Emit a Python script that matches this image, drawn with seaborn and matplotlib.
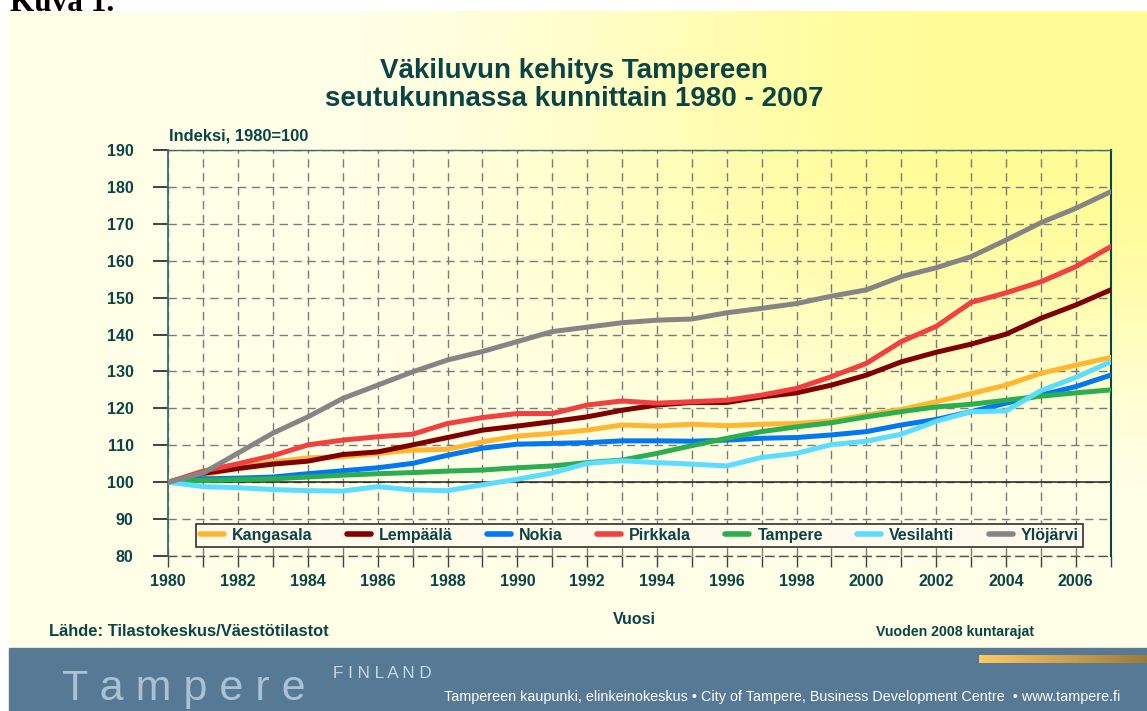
import numpy as np
import pandas as pd
import matplotlib.pyplot as plt
import seaborn as sns
from matplotlib.patches import Rectangle
from matplotlib.ticker import MultipleLocator

# ---------------------------------------------------------
# Data (index, 1980 = 100)
# ---------------------------------------------------------
years = list(range(1980, 2008))

kangasala = [100, 101.9, 103.8, 105.5, 106.6, 106.9, 107.8, 108.7, 108.9, 110.9,
             112.5, 113.2, 114.1, 115.5, 115.2, 115.7, 115.3, 115.7, 115.9, 116.6,
             118.2, 119.7, 121.8, 124.0, 126.3, 129.5, 131.7, 133.8]
lempaala = [100, 102.4, 103.7, 104.9, 105.7, 107.5, 108.2, 110.1, 112.1, 114.1,
            115.2, 116.4, 117.7, 119.5, 120.9, 121.6, 121.6, 123.1, 124.2, 126.3,
            129.0, 132.6, 135.2, 137.4, 140.1, 144.4, 148.0, 152.1]
nokia = [100, 100.9, 101.1, 101.4, 102.3, 103.1, 103.9, 105.1, 107.3, 109.2,
         110.3, 110.5, 110.7, 111.2, 111.2, 111.1, 111.4, 111.9, 112.1, 112.8,
         113.7, 115.5, 117.0, 119.1, 121.4, 123.6, 125.9, 129.0]
pirkkala = [100, 103.0, 105.0, 107.2, 110.1, 111.4, 112.3, 113.0, 115.9, 117.5,
            118.6, 118.6, 120.9, 122.0, 121.4, 121.8, 122.2, 123.6, 125.4, 128.6,
            132.2, 138.1, 142.2, 148.7, 151.3, 154.3, 158.4, 163.8]
tampere = [100, 100.5, 100.7, 100.9, 101.4, 101.9, 102.3, 102.6, 103.0, 103.3,
           103.9, 104.4, 105.3, 106.0, 107.8, 109.9, 111.9, 113.7, 115.0, 116.1,
           117.7, 119.1, 120.4, 121.1, 122.2, 123.3, 124.2, 125.0]
vesilahti = [100, 98.8, 98.5, 98.0, 97.7, 97.6, 98.8, 97.9, 97.7, 99.3,
             100.8, 102.5, 105.1, 105.8, 105.3, 104.9, 104.4, 106.7, 107.8, 110.2,
             111.1, 113.0, 116.5, 119.1, 119.3, 124.8, 128.4, 132.6]
ylojarvi = [100, 102.5, 107.9, 113.3, 117.7, 122.7, 126.3, 129.9, 133.1, 135.4,
            138.1, 140.8, 142.0, 143.2, 143.9, 144.2, 145.9, 147.1, 148.4, 150.4,
            152.1, 155.7, 158.1, 161.1, 165.6, 170.3, 174.2, 178.7]

municipalities = ["Kangasala", "Lempäälä", "Nokia", "Pirkkala",
                  "Tampere", "Vesilahti", "Ylöjärvi"]
series = [kangasala, lempaala, nokia, pirkkala, tampere, vesilahti, ylojarvi]
colors = ["#FFB732", "#7F0000", "#0077F5", "#F24040",
          "#2BAE4F", "#5CDDFF", "#858585"]

x_ticks = list(range(1980, 2007, 2))
y_ticks = list(range(80, 191, 10))

df = pd.DataFrame({
    "Vuosi": years * len(municipalities),
    "Indeksi": [v for s in series for v in s],
    "Kunta": [m for m in municipalities for _ in years],
})

# ---------------------------------------------------------
# Style
# ---------------------------------------------------------
sns.set_style("ticks")
plt.rcParams["font.family"] = ["Liberation Sans", "DejaVu Sans"]
plt.rcParams["font.weight"] = "bold"

teal = "#0B4444"

fig = plt.figure(figsize=(11.47, 7.11), dpi=100)

# background layer in pixel coordinates
bg = fig.add_axes([0, 0, 1, 1], zorder=-10)


def smooth(v):
    v = np.clip(v, 0, 1)
    return v * v * (3 - 2 * v)


gx, gy = np.meshgrid(np.linspace(0, 1, 400), np.linspace(0, 1, 300))
t = smooth((gx - 0.25) / 0.6) * smooth((0.8 - gy) / 0.55)
pale = np.array([255, 255, 232]) / 255
yellow = np.array([255, 252, 152]) / 255
grad = pale[None, None, :] * (1 - t[..., None]) + yellow[None, None, :] * t[..., None]
bg.imshow(grad, extent=[9, 1147, 648, 11], aspect="auto", zorder=0)
bg.add_patch(Rectangle((9, 648), 1138, 63, color="#567A96", zorder=1))

gold = np.linspace(0, 1, 200)[None, :, None]
gold_img = np.array([255, 202, 100])[None, None, :] / 255 * (1 - gold) + \
    np.array([156, 122, 60])[None, None, :] / 255 * gold
bg.imshow(gold_img, extent=[979, 1147, 663, 655], aspect="auto", zorder=2)
bg.set_xlim(0, 1147)
bg.set_ylim(711, 0)
bg.axis("off")

bg.text(10, 11, "Kuva 1.", family=["Liberation Serif", "DejaVu Serif"],
        fontsize=22.5, fontweight="bold", color="black", va="baseline", ha="left")

bg.text(574, 85, "Väkiluvun kehitys Tampereen\nseutukunnassa kunnittain 1980 - 2007",
        fontsize=20, fontweight="bold", color=teal, ha="center", va="center",
        linespacing=1.1)
bg.text(169, 136, "Indeksi, 1980=100", fontsize=11.9, fontweight="bold",
        color=teal, ha="left", va="center")
bg.text(634, 620, "Vuosi", fontsize=11.5, fontweight="bold",
        color=teal, ha="center", va="center")
bg.text(49, 631, "Lähde: Tilastokeskus/Väestötilastot", fontsize=11.9,
        fontweight="bold", color=teal, ha="left", va="center")
bg.text(876, 632, "Vuoden 2008 kuntarajat", fontsize=10.2,
        fontweight="bold", color=teal, ha="left", va="center")

bg.text(62, 689, "T a m p e r e", fontsize=31, fontweight="normal",
        color="#A9C1D3", ha="left", va="center")
bg.text(333, 673, "F I N L A N D", fontsize=12.3, fontweight="normal",
        color="#C9D7E2", ha="left", va="center")
bg.text(444, 697, "Tampereen kaupunki, elinkeinokeskus • City of Tampere, "
        "Business Development Centre  • www.tampere.fi",
        fontsize=10.4, fontweight="normal", color="white", ha="left", va="center")

# ---------------------------------------------------------
# Line chart
# ---------------------------------------------------------
ax = fig.add_axes([168.3 / 1147, 1 - 556 / 711, 942.4 / 1147, 406 / 711])
ax.set_facecolor("none")

sns.lineplot(data=df, x="Vuosi", y="Indeksi", hue="Kunta",
             hue_order=municipalities, palette=colors, linewidth=3.6,
             ax=ax, zorder=3)

ax.set_xlim(1980, 2007)
ax.set_ylim(80, 190)
ax.set_xticks(x_ticks)
ax.set_xticklabels([str(y) for y in x_ticks])
ax.xaxis.set_minor_locator(MultipleLocator(1))
ax.set_yticks(y_ticks)
ax.set_xlabel("")
ax.set_ylabel("")

ax.grid(axis="x", which="both", color="#7A7A7A", linestyle=(0, (6, 4)), linewidth=1)
ax.grid(axis="y", which="major", color="#7A7A7A", linestyle=(0, (6, 4)), linewidth=1)
ax.axhline(100, color="#202020", linewidth=1.1, zorder=2)

ax.tick_params(axis="y", direction="out", length=11, width=1.2, color="#202020",
               pad=14, labelsize=11.5, labelcolor=teal)
ax.tick_params(axis="x", which="both", direction="out", length=8, width=1,
               color="#404040", pad=5, labelsize=11.5, labelcolor=teal)
for lbl in ax.get_xticklabels() + ax.get_yticklabels():
    lbl.set_fontweight("bold")

ax.spines["left"].set_color("#3F6A6A")
ax.spines["left"].set_linewidth(1.3)
ax.spines["right"].set_visible(True)
ax.spines["right"].set_color(teal)
ax.spines["right"].set_linewidth(1.5)
ax.spines["top"].set_visible(True)
ax.spines["top"].set_color("#3F6A6A")
ax.spines["top"].set_linewidth(1)
ax.spines["bottom"].set_color("#555555")
ax.spines["bottom"].set_linestyle((0, (6, 4)))
ax.spines["bottom"].set_linewidth(1)

handles, labels = ax.get_legend_handles_labels()
leg = ax.legend(handles, labels, ncol=7, loc="lower left", mode="expand",
                bbox_to_anchor=(0.0294, 0.022, 0.941, 0.059), borderaxespad=0,
                frameon=True, fancybox=False, handlelength=1.5, handletextpad=0.5,
                borderpad=0.25, prop={"size": 11.5, "weight": "bold"})
leg.get_frame().set_edgecolor("#303030")
leg.get_frame().set_facecolor("#FFFAEC")
leg.get_frame().set_alpha(1)
leg.get_frame().set_linewidth(1.2)
for txt in leg.get_texts():
    txt.set_color(teal)
for h in leg.legend_handles:
    h.set_linewidth(4)
    h.set_solid_capstyle("round")
leg.set_zorder(5)

fig.savefig("out.png", dpi=100)
